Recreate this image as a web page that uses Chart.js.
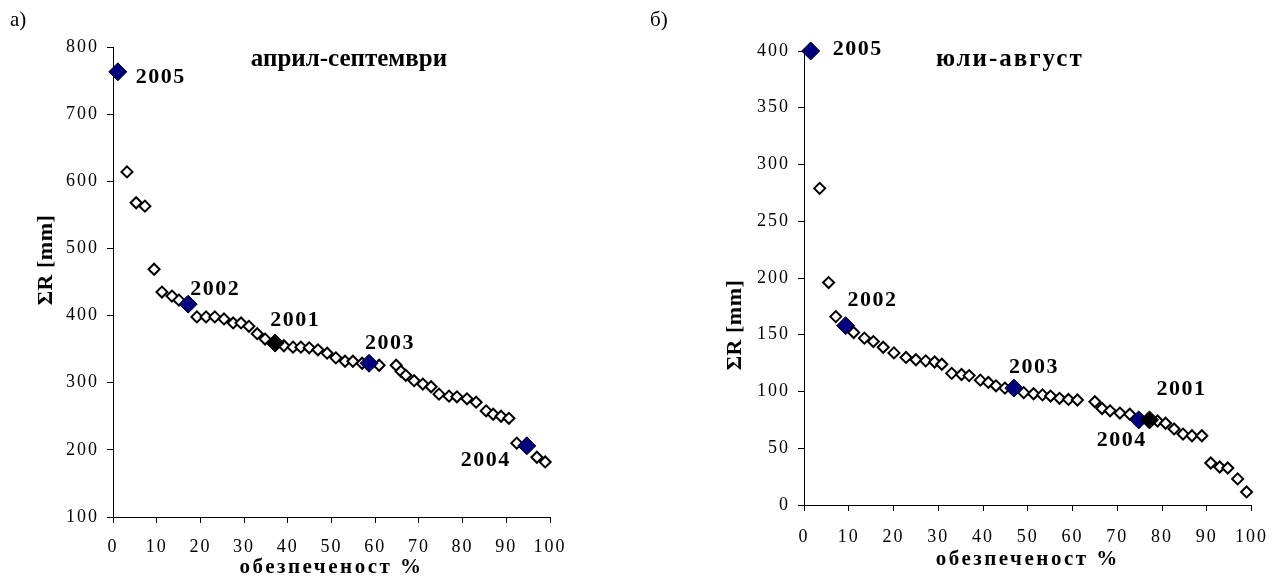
<!DOCTYPE html>
<html>
<head>
<meta charset="utf-8">
<script src="https://cdn.jsdelivr.net/npm/chart.js@4.4.1/dist/chart.umd.min.js"></script>
<style>
    html, body { margin: 0; padding: 0; background: #fff; }
    .panel { position: absolute; top: 0; width: 640px; height: 578px; }
    #panelA { left: 0; }
    #panelB { left: 640px; }
</style>
</head>
<body>
<div class="panel" id="panelA"><canvas id="chartA" width="640" height="578"></canvas></div>
<div class="panel" id="panelB"><canvas id="chartB" width="640" height="578"></canvas></div>

<script>
/* ==========================================
   Data: a) април-септември
   ========================================== */

const aprSepProb = [3.2, 5.3, 7.3, 9.4, 11.2, 13.5, 15.1, 19.2, 21.3, 23.3, 25.4, 27.5, 29.3, 31.1, 33.0, 34.8,
    39.1, 41.2, 43.0, 44.9, 46.9, 49.0, 51.0, 53.1, 54.9, 57.0, 60.9,
    64.8, 65.9, 67.0, 68.9, 70.9, 72.8, 74.6, 76.9, 78.7, 81.0, 83.1, 85.4, 87.0, 88.8, 90.6, 92.4, 97.0, 98.9];
const aprSepSum = [614, 568, 563, 469, 435, 429, 423, 398, 398, 398, 395, 389, 389, 384, 373, 365,
    355, 353, 353, 352, 349, 344, 337, 332, 332, 329, 326,
    326, 317, 311, 303, 298, 294, 283, 280, 279, 276, 271, 258, 253, 250, 247, 210, 189, 182];

const aprSepYears = ["2005", "2002", "2001", "2003", "2004"];
const aprSepYearProb = [1.1, 17.2, 37.1, 58.6, 94.7];
const aprSepYearSum = [763, 417, 359, 329, 206];

/* ==========================================
   Data: б) юли-август
   ========================================== */

const julAugProb = [3.5, 5.5, 7.1, 11.1, 13.5, 15.5, 17.7, 20.1, 22.8, 25.0, 27.2, 29.2, 30.8, 33.0, 35.2, 36.9,
    39.4, 41.2, 42.9, 44.9, 49.1, 51.3, 53.3, 55.1, 57.1, 59.1, 61.1,
    65.0, 66.6, 68.4, 70.6, 72.8, 79.0, 80.8, 82.7, 84.7, 86.7, 88.9, 90.9, 92.9, 94.7, 96.9, 98.9];
const julAugSum = [279, 196, 166, 152, 147, 144, 139, 134, 130, 128, 127, 126, 124, 116, 115, 114,
    110, 108, 105, 103, 99, 98, 97, 96, 94, 93, 92.5,
    91, 85, 83, 81, 80, 74, 72, 67, 62.5, 61, 61, 37, 33.5, 32.6, 23, 11.5];

const julAugYears = ["2005", "2002", "2003", "2004", "2001"];
const julAugYearProb = [1.5, 9.3, 46.9, 74.8, 77.2];
const julAugYearSum = [400, 158, 103, 75, 75];

const xTicks = [0, 10, 20, 30, 40, 50, 60, 70, 80, 90, 100];

/* ==========================================
   Common
   ========================================== */

const SERIF = "'Liberation Serif', 'Times New Roman', serif";
const NAVY = "#000080";

Chart.defaults.font.family = SERIF;
Chart.defaults.color = "#000";

function toPoints(xs, ys) {
    return xs.map((x, i) => ({ x: x, y: ys[i] }));
}

// texts: panel letter, title, axis titles, year labels
const panelText = {
    id: "panelText",
    beforeDraw(chart) {
        // wide spacing of the tick numbers, as in the original
        chart.ctx.letterSpacing = "2px";
    },
    afterDraw(chart, args, o) {
        const ctx = chart.ctx;
        const area = chart.chartArea;

        ctx.save();
        ctx.fillStyle = "#000";
        ctx.textBaseline = "middle";

        ctx.letterSpacing = "0px";
        ctx.font = "21px " + SERIF;
        ctx.textAlign = "left";
        ctx.fillText(o.letter, o.letterX, 20);

        ctx.letterSpacing = o.titleSpacing;
        ctx.font = "bold 25px " + SERIF;
        ctx.textAlign = "center";
        ctx.fillText(o.title, area.left + area.width * o.titleAt, area.top + o.titleDy);

        ctx.letterSpacing = "2.5px";
        ctx.font = "bold 21px " + SERIF;
        ctx.fillText("обезпеченост %", (area.left + area.right) / 2, o.xTitleY);

        ctx.save();
        ctx.translate(o.yTitleX, o.yTitleY);
        ctx.rotate(-Math.PI / 2);
        ctx.letterSpacing = "0.5px";
        ctx.font = "bold 22px " + SERIF;
        ctx.fillText("ΣR [mm]", 0, 0);
        ctx.restore();

        const meta = chart.getDatasetMeta(0);
        ctx.letterSpacing = "1.5px";
        ctx.font = "bold 22px " + SERIF;
        o.years.forEach((yr, i) => {
            const p = meta.data[i];
            const off = o.offsets[yr];
            ctx.textAlign = off[2];
            ctx.fillText(yr, p.x + off[0], p.y + off[1]);
        });

        ctx.restore();
    }
};

function makeChart(id, cfg) {
    return new Chart(document.getElementById(id), {
        type: "scatter",
        data: {
            datasets: [{
                data: toPoints(cfg.keyX, cfg.keyY),
                clip: false,
                pointStyle: "rectRot",
                pointRadius: 9,
                pointBorderWidth: 1,
                pointBorderColor: "#000",
                pointBackgroundColor: cfg.years.map(y => y === "2001" ? "#000" : NAVY)
            }, {
                data: toPoints(cfg.x, cfg.y),
                clip: false,
                pointStyle: "rectRot",
                pointRadius: 5.5,
                pointBorderWidth: 2,
                pointBorderColor: "#000",
                pointBackgroundColor: "#fff"
            }]
        },
        options: {
            responsive: false,
            animation: false,
            events: [],
            layout: {
                padding: cfg.padding
            },
            plugins: {
                legend: { display: false },
                tooltip: { enabled: false },
                panelText: cfg.text
            },
            scales: {
                x: {
                    type: "linear",
                    min: 0,
                    max: 100,
                    afterBuildTicks: s => { s.ticks = xTicks.map(v => ({ value: v })); },
                    ticks: {
                        color: "#000",
                        font: { size: 18 },
                        padding: cfg.xPad,
                        maxRotation: 0,
                        autoSkip: false
                    },
                    grid: { drawOnChartArea: false, tickLength: 6, color: "#000" },
                    border: { color: "#000", width: 1 },
                    afterFit: s => { s.height = cfg.xHeight; }
                },
                y: {
                    type: "linear",
                    min: cfg.yMin,
                    max: cfg.yMax,
                    ticks: {
                        stepSize: cfg.yStep,
                        color: "#000",
                        font: { size: 18 },
                        padding: 8
                    },
                    grid: { drawOnChartArea: false, tickLength: 6, color: "#000" },
                    border: { color: "#000", width: 1 },
                    afterFit: s => { s.width = cfg.yWidth; }
                }
            }
        },
        plugins: [panelText]
    });
}

/* ==========================================
   a) април-септември
   ========================================== */

makeChart("chartA", {
    x: aprSepProb, y: aprSepSum,
    keyX: aprSepYearProb, keyY: aprSepYearSum, years: aprSepYears,
    yMin: 100, yMax: 800, yStep: 100,
    yWidth: 113, xHeight: 61, xPad: 13,
    padding: { top: 47, right: 90, left: 0, bottom: 0 },
    text: {
        letter: "а)", letterX: 10,
        title: "април-септември", titleAt: 0.54, titleDy: 13, titleSpacing: "0px",
        xTitleY: 568,
        yTitleX: 46, yTitleY: 260,
        years: aprSepYears,
        offsets: {
            "2005": [18, 5, "left"],
            "2002": [2, -15, "left"],
            "2001": [-5, -23, "left"],
            "2003": [-4, -20, "left"],
            "2004": [-16, 14, "right"]
        }
    }
});

/* ==========================================
   б) юли-август
   ========================================== */

makeChart("chartB", {
    x: julAugProb, y: julAugSum,
    keyX: julAugYearProb, keyY: julAugYearSum, years: julAugYears,
    yMin: 0, yMax: 400, yStep: 50,
    yWidth: 164, xHeight: 73, xPad: 15,
    padding: { top: 51, right: 24, left: 0, bottom: 0 },
    text: {
        letter: "б)", letterX: 10,
        title: "юли-август", titleAt: 0.46, titleDy: 9, titleSpacing: "2px",
        xTitleY: 560,
        yTitleX: 95, yTitleY: 325,
        years: julAugYears,
        offsets: {
            "2005": [22, -2, "left"],
            "2002": [2, -25, "left"],
            "2003": [-5, -21, "left"],
            "2001": [7, -31, "left"],
            "2004": [8, 20, "right"]
        }
    }
});
</script>
</body>
</html>
